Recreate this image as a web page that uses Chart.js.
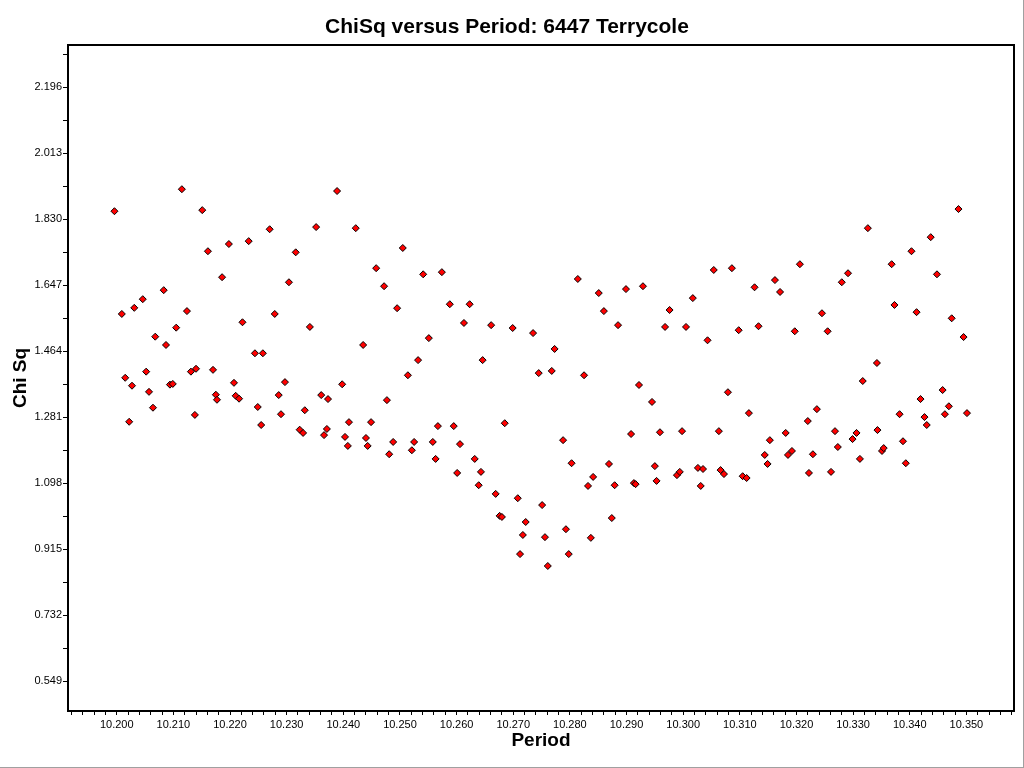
<!DOCTYPE html>
<html>
<head>
<meta charset="utf-8">
<script src="https://cdn.jsdelivr.net/npm/chart.js@4.4.1/dist/chart.umd.min.js"></script>
<style>
html,body{margin:0;padding:0;background:#fff;}
#wrap{width:1024px;height:768px;position:relative;}
canvas{display:block;}
</style>
</head>
<body>
<div id="wrap"><canvas id="c" width="1024" height="768"></canvas></div>
<script>
const chartTitle = 'ChiSq versus Period: 6447 Terrycole';
const xAxisTitle = 'Period';
const yAxisTitle = 'Chi Sq';

const periods = [
10.1996, 10.2009, 10.2015, 10.2022, 10.2027, 10.2031, 10.2046, 10.2052, 10.2057, 10.2064,
10.2068, 10.2083, 10.2087, 10.2094, 10.2099, 10.2105, 10.2115, 10.2124, 10.2131, 10.2138,
10.2140, 10.2151, 10.2161, 10.2170, 10.2175, 10.2177, 10.2186, 10.2198, 10.2207, 10.2210,
10.2216, 10.2222, 10.2233, 10.2244, 10.2249, 10.2255, 10.2258, 10.2270, 10.2279, 10.2286,
10.2290, 10.2297, 10.2304, 10.2316, 10.2323, 10.2329, 10.2332, 10.2341, 10.2352, 10.2361,
10.2366, 10.2371, 10.2373, 10.2389, 10.2398, 10.2403, 10.2408, 10.2410, 10.2422, 10.2435,
10.2440, 10.2443, 10.2449, 10.2458, 10.2472, 10.2477, 10.2481, 10.2488, 10.2495, 10.2505,
10.2514, 10.2521, 10.2525, 10.2532, 10.2541, 10.2551, 10.2558, 10.2563, 10.2567, 10.2574,
10.2588, 10.2595, 10.2601, 10.2606, 10.2613, 10.2623, 10.2632, 10.2639, 10.2643, 10.2646,
10.2661, 10.2669, 10.2676, 10.2680, 10.2685, 10.2699, 10.2708, 10.2712, 10.2717, 10.2722,
10.2735, 10.2745, 10.2751, 10.2756, 10.2761, 10.2768, 10.2773, 10.2788, 10.2793, 10.2798,
10.2803, 10.2814, 10.2825, 10.2832, 10.2837, 10.2841, 10.2851, 10.2860, 10.2869, 10.2874,
10.2879, 10.2885, 10.2899, 10.2908, 10.2913, 10.2916, 10.2922, 10.2929, 10.2945, 10.2950,
10.2953, 10.2959, 10.2968, 10.2976, 10.2989, 10.2994, 10.2998, 10.3005, 10.3017, 10.3026,
10.3031, 10.3035, 10.3043, 10.3054, 10.3063, 10.3066, 10.3072, 10.3079, 10.3086, 10.3098,
10.3105, 10.3112, 10.3116, 10.3126, 10.3133, 10.3144, 10.3149, 10.3153, 10.3162, 10.3171,
10.3181, 10.3185, 10.3192, 10.3197, 10.3206, 10.3220, 10.3222, 10.3229, 10.3236, 10.3245,
10.3255, 10.3261, 10.3268, 10.3273, 10.3280, 10.3291, 10.3299, 10.3306, 10.3312, 10.3317,
10.3326, 10.3342, 10.3343, 10.3351, 10.3354, 10.3368, 10.3373, 10.3382, 10.3388, 10.3393,
10.3403, 10.3412, 10.3419, 10.3426, 10.3430, 10.3437, 10.3448, 10.3458, 10.3462, 10.3469,
10.3474, 10.3486, 10.3495, 10.3501
];

const chiSq = [
1.852, 1.567, 1.390, 1.268, 1.368, 1.584, 1.608, 1.407, 1.351, 1.307,
1.504, 1.633, 1.481, 1.371, 1.373, 1.529, 1.913, 1.575, 1.407, 1.287,
1.415, 1.855, 1.741, 1.412, 1.343, 1.329, 1.669, 1.761, 1.376, 1.340,
1.332, 1.544, 1.769, 1.458, 1.309, 1.259, 1.458, 1.802, 1.567, 1.342,
1.289, 1.378, 1.655, 1.738, 1.246, 1.237, 1.300, 1.531, 1.808, 1.342,
1.231, 1.248, 1.331, 1.908, 1.372, 1.226, 1.201, 1.267, 1.805, 1.481,
1.223, 1.201, 1.267, 1.694, 1.644, 1.328, 1.178, 1.212, 1.583, 1.750,
1.397, 1.189, 1.212, 1.439, 1.677, 1.500, 1.212, 1.165, 1.256, 1.683,
1.594, 1.256, 1.126, 1.206, 1.542, 1.594, 1.165, 1.092, 1.129, 1.439,
1.536, 1.068, 1.007, 1.004, 1.264, 1.528, 1.056, 0.901, 0.954, 0.990,
1.514, 1.403, 1.037, 0.948, 0.868, 1.409, 1.470, 1.217, 0.970, 0.901,
1.153, 1.664, 1.397, 1.090, 0.946, 1.115, 1.625, 1.575, 1.151, 1.001,
1.092, 1.536, 1.636, 1.234, 1.098, 1.095, 1.370, 1.644, 1.323, 1.145,
1.104, 1.239, 1.531, 1.578, 1.120, 1.129, 1.242, 1.531, 1.611, 1.140,
1.090, 1.137, 1.494, 1.689, 1.242, 1.134, 1.123, 1.350, 1.694, 1.522,
1.117, 1.112, 1.292, 1.641, 1.533, 1.176, 1.151, 1.217, 1.661, 1.628,
1.237, 1.176, 1.187, 1.519, 1.705, 1.270, 1.126, 1.178, 1.303, 1.569,
1.519, 1.129, 1.242, 1.198, 1.655, 1.680, 1.220, 1.237, 1.165, 1.381,
1.805, 1.431, 1.245, 1.187, 1.195, 1.705, 1.592, 1.289, 1.214, 1.153,
1.741, 1.572, 1.331, 1.281, 1.259, 1.780, 1.677, 1.356, 1.289, 1.311,
1.555, 1.858, 1.503, 1.292
];

const xMajorTicks = [10.200, 10.210, 10.220, 10.230, 10.240, 10.250, 10.260, 10.270,
                     10.280, 10.290, 10.300, 10.310, 10.320, 10.330, 10.340, 10.350];
const yMajorTicks = [0.549, 0.732, 0.915, 1.098, 1.281, 1.464, 1.647, 1.830, 2.013, 2.196];
const xRange = [10.1914, 10.3584];
const yRange = [0.4658, 2.313];
const xMinorPerMajor = 5;
const yMinorPerMajor = 2;

function withMinors(majors, perMajor, range) {
  const step = (majors[1] - majors[0]) / perMajor;
  const out = [];
  for (let k = -perMajor * 2; k <= (majors.length + 1) * perMajor; k++) {
    const v = +(majors[0] + k * step).toFixed(6);
    if (v >= range[0] && v <= range[1]) out.push(v);
  }
  return out;
}
const xTickValues = withMinors(xMajorTicks, xMinorPerMajor, xRange);
const yTickValues = withMinors(yMajorTicks, yMinorPerMajor, yRange);
const isMajor = (list, v) => list.some(m => Math.abs(m - v) < 1e-6);

const FONT = '"Liberation Sans", Arial, Helvetica, sans-serif';

const framePlugin = {
  id: 'frame',
  beforeDraw(chart) {
    const ctx = chart.ctx;
    ctx.save();
    ctx.fillStyle = '#ffffff';
    ctx.fillRect(0, 0, chart.width, chart.height);
    ctx.restore();
  },
  afterDraw(chart) {
    const ctx = chart.ctx, a = chart.chartArea;
    ctx.save();
    ctx.strokeStyle = '#000';
    ctx.lineWidth = 2;
    ctx.beginPath();
    ctx.moveTo(a.left, a.top);
    ctx.lineTo(a.right, a.top);
    ctx.lineTo(a.right, a.bottom);
    ctx.stroke();
    ctx.fillStyle = '#a0a0a0';
    ctx.fillRect(chart.width - 1, 0, 1, chart.height);
    ctx.fillRect(0, chart.height - 1, chart.width, 1);
    ctx.restore();
  }
};

new Chart(document.getElementById('c'), {
  type: 'scatter',
  data: {
    datasets: [{
      label: yAxisTitle,
      data: periods.map((p, i) => ({x: p, y: chiSq[i]})),
      pointStyle: 'rectRot',
      pointRadius: 3.5,
      pointHoverRadius: 3.5,
      backgroundColor: '#ff0000',
      borderColor: '#000000',
      borderWidth: 1
    }]
  },
  options: {
    responsive: false,
    animation: false,
    devicePixelRatio: 1,
    layout: {padding: {left: 0, right: 10, top: 0, bottom: 0}},
    plugins: {
      legend: {display: false},
      tooltip: {enabled: false},
      title: {
        display: true,
        text: chartTitle,
        color: '#000',
        font: {family: FONT, size: 21, weight: 'bold'},
        padding: {top: 15, bottom: 4.8}
      }
    },
    scales: {
      x: {
        type: 'linear',
        position: 'bottom',
        min: xRange[0],
        max: xRange[1],
        afterBuildTicks: s => { s.ticks = xTickValues.map(v => ({value: v})); },
        afterFit: s => { s.height = 57; },
        ticks: {
          autoSkip: false, maxRotation: 0, minRotation: 0, padding: 3,
          color: '#000', font: {family: FONT, size: 11},
          callback: v => isMajor(xMajorTicks, v) ? v.toFixed(3) : ''
        },
        grid: {display: true, drawOnChartArea: false, drawTicks: true, tickLength: 4, color: '#000', lineWidth: 1},
        border: {display: true, color: '#000', width: 2},
        title: {display: true, text: xAxisTitle, color: '#000', font: {family: FONT, size: 19, weight: 'bold'}, padding: {top: 0, bottom: 16}}
      },
      y: {
        type: 'linear',
        position: 'left',
        min: yRange[0],
        max: yRange[1],
        afterBuildTicks: s => { s.ticks = yTickValues.map(v => ({value: v})); },
        afterFit: s => { s.width = 68; },
        ticks: {
          autoSkip: false, padding: 1,
          color: '#000', font: {family: FONT, size: 11},
          callback: v => isMajor(yMajorTicks, v) ? v.toFixed(3) : ''
        },
        grid: {display: true, drawOnChartArea: false, drawTicks: true, tickLength: 5, color: '#000', lineWidth: 1},
        border: {display: true, color: '#000', width: 2},
        title: {display: true, text: yAxisTitle, color: '#000', font: {family: FONT, size: 19, weight: 'bold'}, padding: {top: 9, bottom: 0}}
      }
    }
  },
  plugins: [framePlugin]
});
</script>
</body>
</html>
